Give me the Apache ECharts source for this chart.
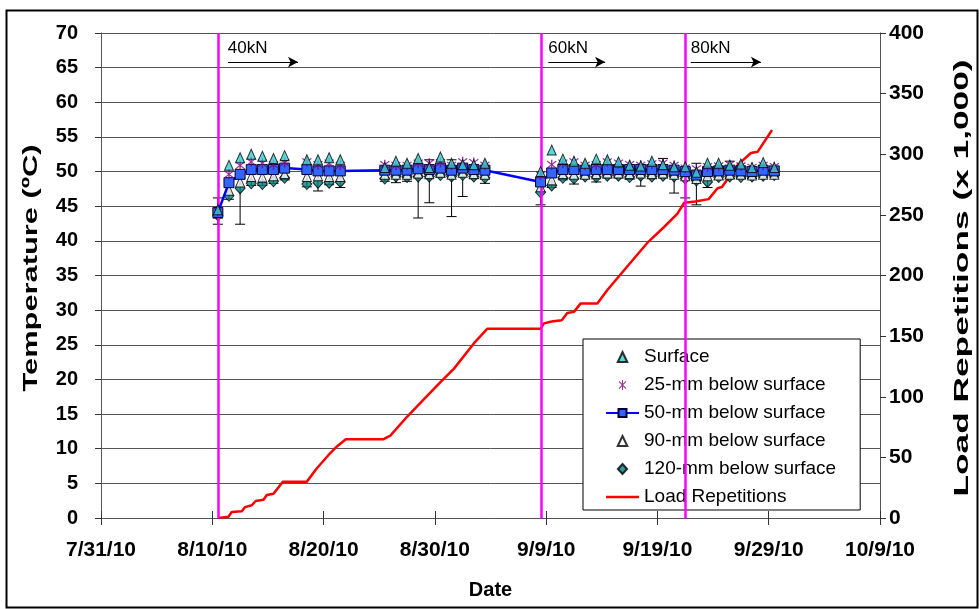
<!DOCTYPE html>
<html>
<head>
<meta charset="utf-8">
<script src="https://cdn.jsdelivr.net/npm/echarts@6/dist/echarts.min.js"></script>
<style>html,body{margin:0;padding:0;background:#fff;}#c{width:980px;height:609px;}</style>
</head>
<body>
<div id="c"></div>
<script>
// x values: days after 7/31/10
const xTickLabels = ['7/31/10','8/10/10','8/20/10','8/30/10','9/9/10','9/19/10','9/29/10','10/9/10'];
const days = [10.5,11.5,12.5,13.5,14.5,15.5,16.5,18.5,19.5,20.5,21.5,
  25.5,26.5,27.5,28.5,29.5,30.5,31.5,32.5,33.5,34.5,
  39.5,40.5,41.5,42.5,43.5,44.5,45.5,46.5,47.5,48.5,49.5,50.5,51.5,52.5,53.5,54.5,55.5,56.5,57.5,58.5,59.5,60.5];
const surface = [44.5,50.9,52.0,52.5,52.2,51.9,52.3,51.7,51.7,52.0,51.7,
  50.6,51.5,51.2,51.9,50.6,52.1,51.2,51.0,51.0,51.2,
  50.0,53.1,51.8,51.5,51.2,51.8,51.7,51.4,50.9,50.8,51.5,51.0,50.7,50.7,49.9,51.2,51.2,50.9,51.1,50.6,51.3,50.6];
const mm25 = [44.3,49.6,50.9,51.4,51.2,51.0,51.3,51.4,51.0,51.2,50.9,
  51.0,50.9,50.9,51.2,51.2,51.3,50.9,51.4,51.3,50.9,
  49.5,51.0,51.2,51.4,50.9,51.0,51.4,51.2,51.0,50.9,51.1,51.2,50.9,50.5,50.4,50.7,50.8,51.0,50.8,50.6,50.9,50.7];
const mm50 = [44.1,48.4,49.6,50.3,50.3,50.3,50.5,50.3,50.1,50.1,50.1,
  50.2,50.2,50.2,50.4,50.3,50.5,50.2,50.5,50.3,50.2,
  48.5,49.8,50.3,50.3,50.2,50.3,50.3,50.3,50.3,50.3,50.3,50.3,50.2,50.0,49.5,50.0,50.1,50.2,50.1,50.0,50.2,50.1];
const mm90 = [44.0,47.3,48.5,49.3,49.2,49.4,49.7,49.3,49.4,49.3,49.3,
  49.6,49.6,49.6,49.8,49.7,49.9,49.6,49.9,49.7,49.6,
  47.8,48.8,49.7,49.6,49.6,49.7,49.8,49.8,49.7,49.8,49.7,49.8,49.6,49.4,49.0,49.4,49.5,49.6,49.6,49.5,49.6,49.6];
const mm120 = [43.7,46.5,47.6,48.3,48.2,48.6,49.1,48.2,48.4,48.4,48.5,
  49.0,49.3,49.2,49.3,49.3,49.5,49.3,49.5,49.3,49.1,
  47.0,48.0,49.1,49.0,49.3,49.2,49.4,49.4,49.2,49.4,49.3,49.4,49.3,49.0,48.7,48.5,49.2,49.3,49.2,49.3,49.4,49.5];
const errLow = [42.4,46.0,42.4,48.0,48.0,48.3,48.8,47.8,47.2,48.1,47.7,
  48.6,48.4,48.6,43.3,45.5,49.2,43.5,46.4,49.0,48.3,
  45.2,47.7,48.8,48.2,49.0,48.5,49.1,49.1,48.9,47.9,49.0,49.1,46.9,46.2,45.2,47.7,48.9,49.0,49.0,49.0,49.1,49.2];
const errHigh = [46.2,48.4,49.6,50.3,50.3,50.3,50.5,50.3,50.1,50.1,50.1,
  50.2,50.2,50.2,50.4,51.7,50.5,51.7,50.5,50.3,50.2,
  48.5,49.8,50.3,50.3,50.2,50.3,50.3,50.3,50.3,51.0,50.3,51.9,50.2,50.0,51.2,50.0,50.1,51.5,50.1,50.0,50.2,50.1];
const loadDays = [10.55,11.45,11.75,12.65,12.95,13.55,13.9,14.6,14.9,15.5,16.35,18.5,19.4,20.45,21.2,22.0,25.4,26.0,27.5,28.4,30.5,31.7,33.5,34.7,
  39.5,39.8,40.5,41.4,41.9,42.5,43.1,44.6,45.5,47.4,49.2,50.6,51.8,52.4,53.4,54.6,55.4,55.8,57.2,58.4,59.0,60.3];
const loadReps = [0,1,5,5.5,9,10.5,14,15,19,20,30,30,41,52,59,65,65,68,83.5,92,112,123,144,156,
  156,160.5,162,163,169,170,177,177,188,208.7,228,240,251,260,261,263,272,273,291,301,302,320];
const loadChangeDays = [10.5, 39.6, 52.5];
const loadLabels = ['40kN','60kN','80kN'];
const arrowSpans = [[11.4,17.7],[40.2,45.3],[53.0,59.3]];
const arrowTemp = 65.8;

const zip = (a,b) => a.map((v,i)=>[v,b[i]]);

function asteriskPath(){
  const parts = [];
  [90,45,135].forEach(a=>{
    const t=a*Math.PI/180, L=5, W=0.55;
    const cx=Math.cos(t), sy=Math.sin(t);
    const px=-sy*W, py=cx*W;
    const p=[[L*cx+px,L*sy+py],[L*cx-px,L*sy-py],[-L*cx-px,-L*sy-py],[-L*cx+px,-L*sy+py]];
    parts.push('M'+p.map(q=>q[0].toFixed(3)+','+q[1].toFixed(3)).join(' L')+' Z');
  });
  return 'path://'+parts.join(' ');
}
const AST = asteriskPath();
const TRI = 'path://M0,-5.5 L5,5 L-5,5 Z';
const DIA = 'path://M0,-5 L4.6,0 L0,5 L-4.6,0 Z';
const BAR = 'path://M0,0 L33,0 L33,2.6 L0,2.6 Z';

const chart = echarts.init(document.getElementById('c'));
const FONT = '"Liberation Sans", Arial, sans-serif';

const errData = days.map((d,i)=>[d, errLow[i], errHigh[i]]);

const option = {
  animation:false,
  backgroundColor:'#fff',
  textStyle:{fontFamily:FONT},
  grid:{left:101,right:100,top:33,bottom:91,containLabel:false},
  xAxis:[{
    type:'value', min:0, max:70, interval:10,
    axisLine:{show:true,onZero:false,lineStyle:{color:'#555',width:1}},
    axisTick:{show:true,length:7,lineStyle:{color:'#333'}},
    axisLabel:{margin:22,fontSize:21,fontWeight:'bold',color:'#000',fontFamily:FONT,
      formatter:v=>xTickLabels[Math.round(v/10)]},
    splitLine:{show:false},
    name:'Date', nameLocation:'middle', nameGap:62,
    nameTextStyle:{fontSize:20,fontWeight:'bold',color:'#000',fontFamily:FONT}
  },{
    type:'value', min:0, max:70, interval:10, position:'bottom',
    axisLine:{show:false,onZero:false}, axisLabel:{show:false}, splitLine:{show:false},
    axisTick:{show:true,inside:true,length:7,lineStyle:{color:'#333'}}
  }],
  yAxis:[{
    type:'value', min:0, max:70, interval:5, position:'left',
    axisLine:{show:true,onZero:false,lineStyle:{color:'#555'}},
    axisTick:{show:true,length:6,lineStyle:{color:'#333'}},
    axisLabel:{margin:23,fontSize:20,fontWeight:'bold',color:'#000',fontFamily:FONT},
    splitLine:{show:true,lineStyle:{color:'#555',width:1}}
  },{
    type:'value', min:0, max:400, interval:50, position:'right',
    axisLine:{show:true,onZero:false,lineStyle:{color:'#555'}},
    axisTick:{show:true,length:6,lineStyle:{color:'#333'}},
    axisLabel:{margin:9,fontSize:21,fontWeight:'bold',color:'#000',fontFamily:FONT},
    splitLine:{show:false}
  }],
  legend:{
    orient:'vertical', left:583, top:339, width:290,
    padding:[8,24,3,22], itemGap:8, itemWidth:33, itemHeight:10,
    symbolKeepAspect:true,
    backgroundColor:'#fff', borderColor:'#000', borderWidth:1, borderRadius:0,
    textStyle:{fontSize:19,color:'#000',fontFamily:FONT,lineHeight:20},
    data:['Surface','25-mm below surface','50-mm below surface','90-mm below surface','120-mm below surface',
      {name:'Load Repetitions', icon:BAR}]
  },
  series:[
    {
      type:'custom', name:'err', xAxisIndex:0, yAxisIndex:0, z:1, silent:true,
      renderItem:(params, api)=>{
        const x = api.value(0);
        const lo = api.coord([x, api.value(1)]);
        const hi = api.coord([x, api.value(2)]);
        const c = 5;
        const st = {stroke:'#000', lineWidth:1};
        return {type:'group', children:[
          {type:'line', shape:{x1:lo[0],y1:lo[1],x2:hi[0],y2:hi[1]}, style:st},
          {type:'line', shape:{x1:lo[0]-c,y1:lo[1],x2:lo[0]+c,y2:lo[1]}, style:st},
          {type:'line', shape:{x1:hi[0]-c,y1:hi[1],x2:hi[0]+c,y2:hi[1]}, style:st}
        ]};
      },
      data: errData
    },
    {
      type:'line', name:'Load Repetitions', xAxisIndex:0, yAxisIndex:1, z:3,
      data: zip(loadDays, loadReps), showSymbol:false, symbol:'none',
      lineStyle:{color:'#FF0000', width:2.5}, itemStyle:{color:'#FF0000'},
      markLine:{
        silent:true, symbol:'none', animation:false,
        lineStyle:{color:'#FF00FF', width:2.5, type:'solid'},
        label:{show:false},
        data: loadChangeDays.map(d=>({xAxis:d}))
      }
    },
    {
      type:'scatter', name:'120-mm below surface', xAxisIndex:0, yAxisIndex:0, z:4,
      data: zip(days, mm120), symbol:DIA, symbolSize:[10,11],
      itemStyle:{color:'#008080', borderColor:'#000', borderWidth:1}
    },
    {
      type:'scatter', name:'90-mm below surface', xAxisIndex:0, yAxisIndex:0, z:4,
      data: zip(days, mm90), symbol:TRI, symbolSize:[9,10],
      itemStyle:{color:'#fff', borderColor:'#000', borderWidth:1}
    },
    {
      type:'line', name:'50-mm below surface', xAxisIndex:0, yAxisIndex:0, z:5,
      data: zip(days, mm50), symbol:'rect', symbolSize:10, showSymbol:true,
      lineStyle:{color:'#0000FF', width:2.5},
      itemStyle:{color:'#3366FF', borderColor:'#000033', borderWidth:1},
      markLine:{
        silent:true, animation:false, symbol:['none','arrow'], symbolSize:[8,10],
        lineStyle:{color:'#000', width:1.2, type:'solid'},
        label:{show:true, position:'insideStartTop', distance:[0,5], fontSize:17, color:'#000', fontFamily:FONT,
          formatter:p=>p.data.name||''},
        data: arrowSpans.map((s,i)=>[{name:loadLabels[i], coord:[s[0],arrowTemp]},{coord:[s[1],arrowTemp]}])
      }
    },
    {
      type:'scatter', name:'25-mm below surface', xAxisIndex:0, yAxisIndex:0, z:6,
      data: zip(days, mm25), symbol:AST, symbolSize:10,
      itemStyle:{color:'#800080'}
    },
    {
      type:'scatter', name:'Surface', xAxisIndex:0, yAxisIndex:0, z:7,
      data: zip(days, surface), symbol:TRI, symbolSize:[9,10],
      itemStyle:{color:'#33CCCC', borderColor:'#000', borderWidth:1}
    }
  ],
  graphic:[{
    type:'rect', left:4, top:8, silent:true, z:-1,
    shape:{width:971, height:597},
    style:{fill:'none', stroke:'#000', lineWidth:2}
  },{
    type:'text', x:31, y:268, rotation:Math.PI/2, scaleX:1.54, silent:true,
    style:{text:'Temperature (ºC)', fontSize:20, fontWeight:'bold', fill:'#000', fontFamily:FONT,
      align:'center', verticalAlign:'middle'}
  },{
    type:'text', x:962, y:278, rotation:Math.PI/2, scaleX:1.68, silent:true,
    style:{text:'Load Repetitions (x 1,000)', fontSize:21, fontWeight:'bold', fill:'#000', fontFamily:FONT,
      align:'center', verticalAlign:'middle'}
  }]
};
chart.setOption(option);
</script>
</body>
</html>
